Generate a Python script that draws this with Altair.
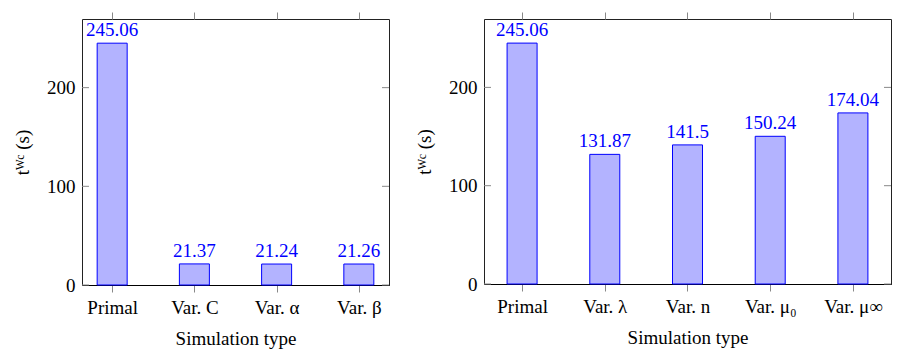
import json
import altair as alt
import pandas as pd

left_cats = ["Primal", "Var. C", "Var. α", "Var. β"]
left_vals = [245.06, 21.37, 21.24, 21.26]
right_cats = ["Primal", "Var. λ", "Var. n", "Var. μ₀", "Var. μ∞"]
right_vals = [245.06, 131.87, 141.5, 150.24, 174.04]
y_ticks = [0, 100, 200]
y_max = 269.57

FONT = "'Liberation Serif', 'DejaVu Serif', serif"
FS = 19


def panel(cats, vals, width, height, pad):
    n = len(cats)
    df = pd.DataFrame({"idx": list(range(n)), "val": vals})
    ticks_df = pd.DataFrame({"t": y_ticks})
    label_expr = "[" + ",".join(json.dumps(c) for c in cats) + "][datum.value]"
    xscale = alt.Scale(domain=[-pad, n - 1 + pad], nice=False, zero=False)
    yscale = alt.Scale(domain=[0, y_max], nice=False, zero=True)

    bars = alt.Chart(df).mark_bar(size=30, fill="#b3b3ff", stroke="#0000ff", strokeWidth=1).encode(
        x=alt.X("idx:Q", scale=xscale, title="Simulation type",
                axis=alt.Axis(orient="bottom", values=list(range(n)), labelExpr=label_expr,
                              tickSize=7, tickColor="#888888", domainColor="#000000",
                              labelPadding=6, titlePadding=12, grid=False)),
        y=alt.Y("val:Q", scale=yscale, title="tᵂᶜ (s)",
                axis=alt.Axis(values=y_ticks, ticks=False, domain=False, grid=False,
                              labelPadding=7, titlePadding=14)),
    )
    text = alt.Chart(df).mark_text(dy=-7, baseline="alphabetic", color="#0000ff",
                                   font=FONT, fontSize=FS).encode(
        x=alt.X("idx:Q", scale=xscale,
                axis=alt.Axis(orient="top", values=list(range(n)), labels=False, title=None,
                              tickSize=7, tickColor="#888888", domain=False, grid=False)),
        y=alt.Y("val:Q", scale=yscale),
        text=alt.Text("val:Q"),
    )
    lt = alt.Chart(ticks_df).mark_rule(color="#888888", strokeWidth=1).encode(
        y=alt.Y("t:Q", scale=yscale), x=alt.value(0), x2=alt.value(7))
    rt = alt.Chart(ticks_df).mark_rule(color="#888888", strokeWidth=1).encode(
        y=alt.Y("t:Q", scale=yscale), x=alt.value(width - 7), x2=alt.value(width))
    return alt.layer(bars, lt, rt, text).resolve_axis(x="independent").properties(
        width=width, height=height)


left = panel(left_cats, left_vals, 307, 266, 0.306)
right = panel(right_cats, right_vals, 407, 265, 0.40)

chart = alt.hconcat(left, right, spacing=25).properties(
    padding={"left": 5, "top": 3, "right": 0, "bottom": 0}
).configure_view(stroke="#222222", strokeWidth=1).configure_axis(
    labelFont=FONT, labelFontSize=FS, labelColor="#000000",
    titleFont=FONT, titleFontSize=FS, titleFontWeight="normal", titleColor="#000000",
)

chart.save("out.html", embed_options={"renderer": "svg", "actions": False})
